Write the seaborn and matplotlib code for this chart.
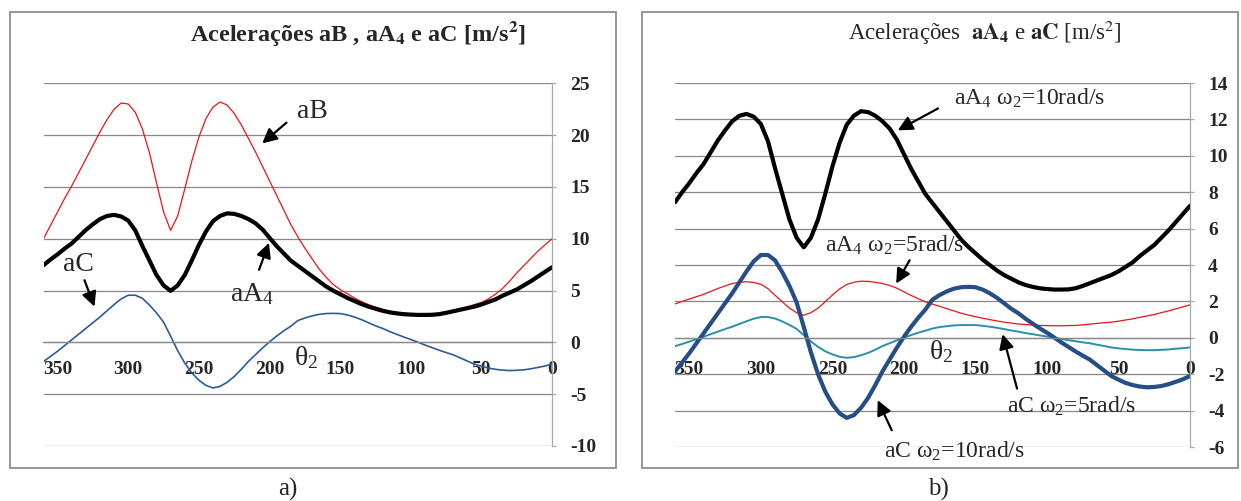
import numpy as np
import pandas as pd
import seaborn as sns
import matplotlib.pyplot as plt
from matplotlib.patches import Rectangle

# angle theta2 in degrees, read every 5 deg from 360 down to 0
theta = list(range(360, -1, -5))

aB = [10.0, 11.3, 12.6, 13.9, 15.1, 16.4, 17.7, 19.0, 20.3, 21.5, 22.5, 23.1,
      23.0, 22.2, 20.6, 18.3, 15.4, 12.6, 10.8, 12.2, 14.8, 17.5, 19.8, 21.6,
      22.7, 23.2, 22.9, 22.1, 21.0, 19.7, 18.4, 17.0, 15.6, 14.2, 12.8, 11.4,
      10.2, 9.1, 8.1, 7.1, 6.3, 5.6, 5.1, 4.7, 4.3, 3.95, 3.65, 3.4,
      3.2, 3.0, 2.9, 2.8, 2.75, 2.7, 2.7, 2.72, 2.8, 2.9, 3.05, 3.2,
      3.4, 3.65, 3.85, 4.2, 4.65, 5.2, 5.9, 6.7, 7.4, 8.1, 8.8, 9.4, 10.0]

aA4_w10 = [7.45, 8.0, 8.5, 9.05, 9.55, 10.2, 10.85, 11.4, 11.9, 12.2, 12.3, 12.15,
           11.75, 10.8, 9.3, 7.9, 6.5, 5.5, 4.97, 5.5, 6.5, 7.9, 9.4, 10.7,
           11.7, 12.2, 12.45, 12.4, 12.2, 11.9, 11.5, 10.9, 10.1, 9.3, 8.6, 7.9,
           7.4, 6.9, 6.4, 5.9, 5.4, 5.0, 4.65, 4.3, 4.0, 3.7, 3.45, 3.25,
           3.05, 2.9, 2.8, 2.72, 2.68, 2.65, 2.65, 2.66, 2.72, 2.85, 3.0, 3.15,
           3.3, 3.45, 3.65, 3.9, 4.15, 4.5, 4.8, 5.1, 5.5, 5.9, 6.35, 6.8, 7.25]

aC_w10 = [-1.85, -1.35, -0.85, -0.3, 0.25, 0.8, 1.35, 1.9, 2.45, 3.05, 3.65, 4.2,
          4.55, 4.55, 4.25, 3.6, 2.85, 1.95, 0.6, -0.8, -2.0, -2.95, -3.65, -4.15,
          -4.4, -4.25, -3.85, -3.3, -2.6, -1.85, -1.2, -0.55, 0.05, 0.6, 1.1, 1.55,
          2.1, 2.35, 2.55, 2.7, 2.78, 2.8, 2.78, 2.65, 2.45, 2.2, 1.9, 1.6,
          1.35, 1.05, 0.78, 0.52, 0.28, 0.02, -0.25, -0.5, -0.75, -0.98, -1.2, -1.5,
          -1.8, -2.1, -2.3, -2.48, -2.6, -2.68, -2.72, -2.7, -2.65, -2.55, -2.42, -2.28, -2.1]

aA4_w5 = [1.86, 2.0, 2.13, 2.26, 2.39, 2.55, 2.71, 2.85, 2.98, 3.05, 3.08, 3.04,
          2.94, 2.7, 2.33, 1.98, 1.63, 1.38, 1.24, 1.38, 1.63, 1.98, 2.35, 2.68,
          2.93, 3.05, 3.11, 3.1, 3.05, 2.98, 2.88, 2.73, 2.53, 2.33, 2.15, 1.98,
          1.85, 1.73, 1.6, 1.48, 1.35, 1.25, 1.16, 1.08, 1.0, 0.93, 0.86, 0.81,
          0.76, 0.73, 0.7, 0.68, 0.67, 0.66, 0.66, 0.67, 0.68, 0.71, 0.75, 0.79,
          0.83, 0.86, 0.91, 0.98, 1.04, 1.13, 1.2, 1.28, 1.38, 1.48, 1.59, 1.7, 1.81]

aC_w5 = [-0.46, -0.34, -0.21, -0.08, 0.06, 0.2, 0.34, 0.48, 0.61, 0.76, 0.91, 1.05,
         1.14, 1.14, 1.06, 0.9, 0.71, 0.49, 0.15, -0.2, -0.5, -0.74, -0.91, -1.04,
         -1.1, -1.06, -0.96, -0.83, -0.65, -0.46, -0.3, -0.14, 0.01, 0.15, 0.28, 0.39,
         0.51, 0.59, 0.64, 0.68, 0.7, 0.7, 0.7, 0.66, 0.61, 0.55, 0.48, 0.4,
         0.34, 0.26, 0.2, 0.13, 0.07, 0.0, -0.06, -0.13, -0.19, -0.25, -0.3, -0.38,
         -0.45, -0.53, -0.58, -0.62, -0.65, -0.67, -0.68, -0.68, -0.66, -0.64, -0.6, -0.57, -0.53]

x_ticks = [350, 300, 250, 200, 150, 100, 50, 0]
ya_ticks = [-10, -5, 0, 5, 10, 15, 20, 25]
yb_ticks = [-6, -4, -2, 0, 2, 4, 6, 8, 10, 12, 14]

df = pd.DataFrame({"theta": theta, "aB": aB, "aA4_w10": aA4_w10, "aC_w10": aC_w10,
                   "aA4_w5": aA4_w5, "aC_w5": aC_w5})

sns.set_style("white")
plt.rcParams['font.family'] = ['Liberation Serif', 'DejaVu Serif']
plt.rcParams['mathtext.fontset'] = 'stix'

W, H = 1241, 501
fig = plt.figure(figsize=(W / 100, H / 100), dpi=100)


def box(l, t, r, b):
    return [l / W, 1 - b / H, (r - l) / W, (b - t) / H]


GRID = '#878787'
AXIS = '#a8a8a8'

# panel frames
for l, t, r, b in [(10, 12, 616, 468), (642, 12, 1238, 468)]:
    fig.add_artist(Rectangle((l / W, 1 - b / H), (r - l) / W, (b - t) / H,
                             transform=fig.transFigure, fill=False,
                             ec='#8f8f8f', lw=1.3))

axA = fig.add_axes(box(43.5, 83.3, 552, 446))
axB = fig.add_axes(box(675, 83, 1190, 447))


def style(ax, yt, xpad):
    # spine position first: moving it resets the ticks
    ax.spines['bottom'].set_position(('data', 0))
    ax.spines['bottom'].set_color(GRID)
    ax.spines['bottom'].set_linewidth(0.9)
    ax.spines['left'].set_visible(False)
    ax.spines['top'].set_visible(False)
    ax.spines['right'].set_color(AXIS)
    ax.spines['right'].set_linewidth(0.9)
    ax.yaxis.tick_right()
    ax.set_xlim(360, 0)
    ax.set_ylim(yt[0], yt[-1])
    ax.set_xticks(x_ticks)
    ax.set_xticklabels([str(v) for v in x_ticks], fontweight='bold', fontsize=14)
    ax.set_yticks(yt)
    ax.set_yticklabels([str(v) for v in yt], fontweight='bold', fontsize=14, ha='left')
    ax.grid(axis='y', color=GRID, lw=0.9)
    ax.grid(axis='x', visible=False)
    ax.set_axisbelow(True)
    ax.tick_params(axis='x', direction='out', length=3.5, width=0.9, color=GRID, pad=xpad)
    ax.tick_params(axis='y', direction='out', length=3, width=0.9, color=AXIS, pad=10)
    ax.set_xlabel('')
    ax.set_ylabel('')
    ax.patch.set_alpha(0)


# panel a
sns.lineplot(data=df, x="theta", y="aB", ax=axA, color='#e8141a', lw=0.9)
sns.lineplot(data=df, x="theta", y="aA4_w10", ax=axA, color='black', lw=3.0)
sns.lineplot(data=df, x="theta", y="aC_w10", ax=axA, color='#2f5b95', lw=1.2)
style(axA, ya_ticks, 10)

# panel b
sns.lineplot(data=df, x="theta", y="aA4_w10", ax=axB, color='black', lw=3.0)
sns.lineplot(data=df, x="theta", y="aA4_w5", ax=axB, color='#e8141a', lw=0.9)
sns.lineplot(data=df, x="theta", y="aC_w5", ax=axB, color='#2c8fa8', lw=1.4)
sns.lineplot(data=df, x="theta", y="aC_w10", ax=axB, color='#264e86', lw=3.0)
style(axB, yb_ticks, 13)

arrow = dict(arrowstyle='-|>', color='black', lw=1.6, mutation_scale=22,
             shrinkA=0, shrinkB=0)

# annotations panel a
axA.text(169.7, 22.3, "aB", fontsize=20, ha='center', va='center')
axA.annotate('', xy=(205.2, 19.2), xytext=(188, 21.2), arrowprops=arrow)
axA.text(212.6, 4.7, "aA$\\mathregular{_4}$", fontsize=20, ha='center', va='center')
axA.annotate('', xy=(200.4, 9.6), xytext=(207.4, 7.0), arrowprops=arrow)
axA.text(335.1, 7.5, "aC", fontsize=20, ha='center', va='center')
axA.annotate('', xy=(323.9, 3.45), xytext=(331, 6.0), arrowprops=arrow)
axA.text(174, -1.5, "θ$\\mathregular{_2}$", fontsize=20, ha='center', va='center')

# annotations panel b
axB.text(112, 13.16, "aA$\\mathregular{_4}$ ω$\\mathregular{_2}$=10rad/s",
         fontsize=17, ha='center', va='center')
axB.annotate('', xy=(204.3, 11.4), xytext=(176.2, 12.6), arrowprops=arrow)
axB.text(206.6, 5.08, "aA$\\mathregular{_4}$ ω$\\mathregular{_2}$=5rad/s",
         fontsize=17, ha='center', va='center')
axB.annotate('', xy=(205.4, 2.98), xytext=(196, 4.26), arrowprops=arrow)
axB.text(82.6, -3.76, "aC ω$\\mathregular{_2}$=5rad/s", fontsize=17, ha='center', va='center')
axB.annotate('', xy=(131, 0.2), xytext=(120.9, -2.79), arrowprops=arrow)
axB.text(164.6, -6.24, "aC ω$\\mathregular{_2}$=10rad/s", fontsize=17, ha='center', va='center')
axB.annotate('', xy=(218.3, -3.43), xytext=(208.5, -5.08), arrowprops=arrow)
axB.text(174, -0.75, "θ$\\mathregular{_2}$", fontsize=20, ha='center', va='center')

# titles and panel letters
fig.text(358 / W, 1 - 33 / H, "Acelerações aB , aA$\\mathbf{_4}$ e aC [m/s$\\mathbf{^2}$]",
         fontsize=17.5, fontweight='bold', ha='center', va='center')
fig.text(985 / W, 1 - 33 / H, "Acelerações  $\\mathbf{aA_4}$ e $\\mathbf{aC}$ [m/s$^2$]",
         fontsize=16.5, ha='center', va='center')
fig.text(288 / W, 1 - 489 / H, "a)", fontsize=18, ha='center', va='center')
fig.text(938 / W, 1 - 489 / H, "b)", fontsize=18, ha='center', va='center')

fig.savefig("out.png", dpi=100)
